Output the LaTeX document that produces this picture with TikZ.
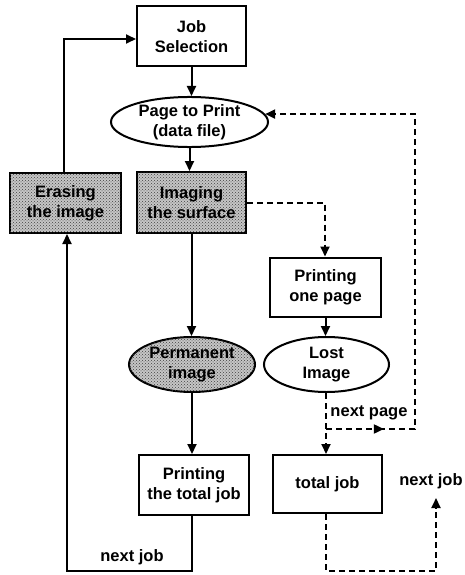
\documentclass[tikz,border=0pt]{standalone}
\usepackage{fontspec}
\setmainfont{Liberation Sans}
\usetikzlibrary{arrows.meta,shapes.geometric,patterns,calc}
\begin{document}
\begin{tikzpicture}[x=1pt,y=-1pt,
  line width=2pt,
  >={Triangle[length=10pt,width=9pt]},
  lbl/.style={font=\fontsize{16.5}{20}\selectfont\bfseries, align=center, inner sep=0pt},
  box/.style={lbl, draw, rectangle},
  oval/.style={lbl, draw, ellipse},
  shade/.style={fill=gray!45, postaction={pattern=crosshatch dots, pattern color=black!75}},
  dline/.style={dash pattern=on 6pt off 4pt},
  tag/.style={lbl}]
  \useasboundingbox (0,0) rectangle (464,575);

  % process steps
  \node[box, minimum width=109, minimum height=60] (js) at (191.5,36.5) {Job\\Selection};
  \node[oval, minimum width=157, minimum height=50] (pp) at (189.5,122) {Page to Print\\(data file)};
  \node[box, shade, minimum width=109, minimum height=61] (im) at (191.5,202.5) {Imaging\\the surface};
  \node[box, shade, minimum width=111, minimum height=60] (er) at (65.5,203) {Erasing\\the image};
  \node[box, minimum width=111, minimum height=59] (p1) at (325.5,287) {Printing\\one page};
  \node[oval, minimum width=125, minimum height=55] (li) at (326.5,364.5) {Lost\\Image};
  \node[oval, shade, minimum width=126, minimum height=55] (pi) at (192,364.5) {Permanent\\image};
  \node[box, minimum width=110, minimum height=60] (pt) at (194,485) {Printing\\the total job};
  \node[box, minimum width=109, minimum height=58] (tj) at (327.5,484) {total job};

  % labels
  \node[tag] (lnp) at (369,413) {next page};
  \node[tag] (lnj) at (132,557) {next job};
  \node[tag] (lnj2) at (431,481) {next job};

  % route points
  \coordinate (a1) at (192,571);
  \coordinate (a2) at (67,571);
  \coordinate (b1) at (64,39);
  \coordinate (c1) at (325,202.5);
  \coordinate (split) at (326,429);
  \coordinate (turn) at (415,429);
  \coordinate (d1) at (326,571);
  \coordinate (d2) at (436,571);
  \coordinate (d3) at (436,498);

  % solid flow
  \draw[->] (js.south) -- (js.south |- pp.north);
  \draw[->] (pp.south) -- (pp.south |- im.north);
  \draw[->] (im.south) -- (im.south |- pi.north);
  \draw[->] (pi.south) -- (pi.south |- pt.north);
  \draw[->] (pt.south -| a1) -- (a1) -- (a2) -- (a2 |- er.south);
  \draw[->] (er.north -| b1) -- (b1) -- (b1 -| js.west);

  % dashed flow
  \draw[dline,->] (im.east) -- (c1) -- (c1 |- p1.north);
  \draw[->] (p1.south) -- (p1.south |- li.north);
  \draw[dline,->] (li.south -| split) -- (split) -- (split |- tj.north);
  \draw[dline,->] (split) -- ($(split)!0.65!(turn)$);
  \draw[dline,->] ($(split)!0.6!(turn)$) -- (turn) |- (pp.6);
  \draw[dline,->] (tj.south -| d1) -- (d1) -- (d2) -- (d3);
\end{tikzpicture}
\end{document}
